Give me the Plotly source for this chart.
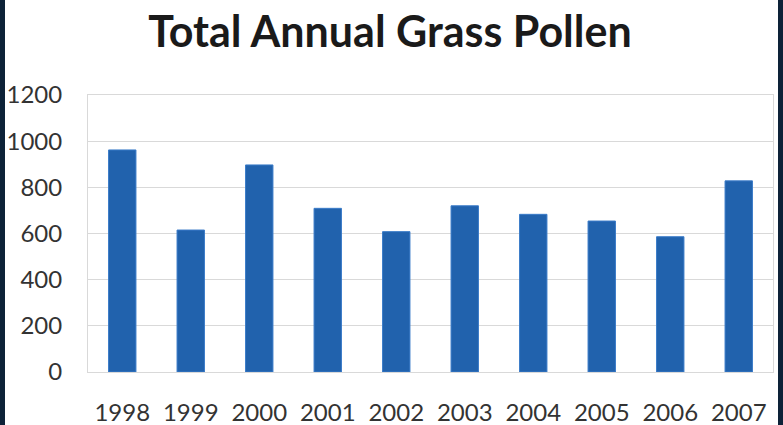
import plotly.graph_objects as go

years = ["1998", "1999", "2000", "2001", "2002", "2003", "2004", "2005", "2006", "2007"]
pollen = [962, 615, 897, 709, 608, 720, 683, 654, 586, 828]
y_ticks = [0, 200, 400, 600, 800, 1000, 1200]

BAR = "#2162ad"
GRID = "#d9d9d9"
FONT = "Lato"

fig = go.Figure(
    go.Bar(
        x=years,
        y=pollen,
        width=0.4,
        marker=dict(color=BAR, line=dict(color="#3a7bc8", width=1)),
    )
)

fig.update_layout(
    width=783,
    height=425,
    margin=dict(l=88, r=10, t=95, b=53, autoexpand=False),
    paper_bgcolor="white",
    plot_bgcolor="white",
    showlegend=False,
    title=dict(
        text="<b>Total Annual Grass Pollen</b>",
        x=0.498,
        xref="container",
        y=0.925,
        yref="container",
        xanchor="center",
        yanchor="middle",
        font=dict(family=FONT, size=43, color="#1a1a1a"),
    ),
    bargap=0.6,
)

fig.update_xaxes(
    type="category",
    automargin=False,
    showgrid=False,
    showline=True,
    linecolor=GRID,
    linewidth=1,
    mirror=True,
    ticks="outside",
    ticklen=19,
    tickcolor="rgba(0,0,0,0)",
    tickfont=dict(family=FONT, size=24, color="#333333"),
)

fig.update_yaxes(
    range=[0, 1200],
    tickvals=y_ticks,
    automargin=False,
    showgrid=True,
    gridcolor=GRID,
    gridwidth=1,
    showline=True,
    linecolor=GRID,
    linewidth=1,
    mirror=True,
    zeroline=False,
    ticks="outside",
    ticklen=20,
    tickcolor="rgba(0,0,0,0)",
    tickfont=dict(family=FONT, size=24, color="#333333"),
)

# dark frame strips on the left and right edges of the page
for x0, x1 in [(0, 5), (778, 783)]:
    fig.add_shape(
        type="rect",
        xref="paper",
        yref="paper",
        x0=(x0 - 88) / 685,
        x1=(x1 - 88) / 685,
        y0=-60 / 277,
        y1=(425 - 40) / 277,
        fillcolor="#0d2238",
        line=dict(width=0),
        layer="above",
    )

fig.write_html("out.html")
